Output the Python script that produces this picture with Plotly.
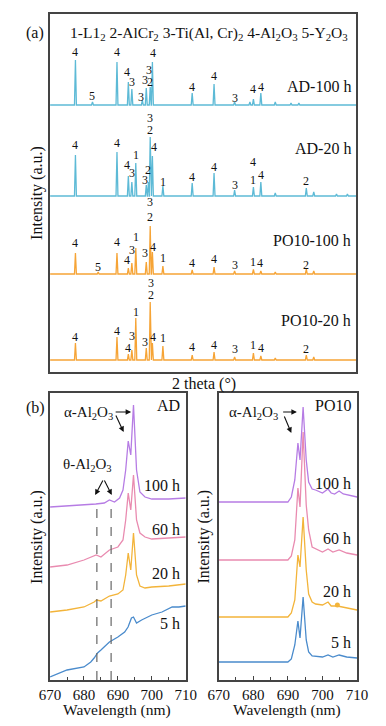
import plotly.graph_objects as go

# the page body adds an 8px margin, so the figure is drawn 8px smaller
OFF = 8
W, H = 386 - OFF, 726 - OFF
FONT = "Liberation Serif"


def xp(px):
    return (px - OFF) / W


def yp(py):
    return 1 - (py - OFF) / H


# ---------------- (a) XRD data ----------------
# peak positions (2theta, deg) and heights (a.u.) above each pattern's baseline
ad100_base = 267
ad100_pos = [25.8, 29.7, 35.3, 37.9, 38.7, 41.1, 42.0, 42.9, 43.4, 52.5, 57.5, 62.2, 65.7, 66.5, 68.2, 71.5, 75.1, 76.9]
ad100_h   = [45,   3,    43,   23,   16,   5,    17,   18,   43,   12,   21,   3,    3,    6,    12,   3,    2,    2]

ad20_base = 176
ad20_pos = [25.8, 35.3, 37.9, 38.7, 39.6, 42.0, 42.5, 42.9, 43.4, 45.8, 52.5, 57.5, 62.2, 66.5, 68.2, 71.5, 78.6, 80.3, 85.5, 88.0]
ad20_h   = [41,   44,   20,   14,   33,   11,   14,   59,   40,   10,   13,   23,   6,    9,    14,   3,    8,    4,    2,    2]

po100_base = 98
po100_pos = [25.8, 31.0, 35.3, 37.9, 38.7, 39.6, 42.0, 42.9, 43.4, 45.8, 52.5, 57.5, 62.2, 66.5, 68.2, 71.5, 78.6, 80.3]
po100_h   = [21,   2,    21,   6,    11,   26,   12,   48,   22,   8,    4,    7,    3,    4.5,  3,    2,    5,    3]

po20_base = 12
po20_pos = [25.8, 35.3, 37.9, 38.7, 39.6, 42.0, 42.9, 43.4, 45.8, 52.5, 57.5, 62.2, 66.5, 68.2, 71.5, 78.6, 80.3]
po20_h   = [17,   23,   6,    10,   42,   12,   58,   17,   14,   5,    8,    3,    7,    4,    2,    5,    3]

# phase labels: text, 2theta, intensity
ad100_lab_t = ["4", "5", "4", "4", "3", "3", "3", "3", "2", "4", "4", "4", "3", "4", "4"]
ad100_lab_x = [25.8, 29.7, 35.3, 37.7, 38.7, 40.9, 41.6, 42.6, 42.9, 43.5, 52.5, 57.5, 62.2, 66.3, 68.2]
ad100_lab_y = [320, 276, 320, 300, 290, 275, 292, 302, 290, 319, 285, 296, 274, 283, 285]

ad20_lab_t = ["4", "4", "4", "3", "1", "3", "2", "3", "2", "4", "1", "4", "4", "3", "4", "1", "4", "2"]
ad20_lab_x = [25.8, 35.3, 37.7, 38.7, 39.6, 41.8, 42.4, 42.8, 42.8, 43.7, 45.8, 52.5, 57.5, 62.2, 66.5, 66.5, 68.2, 78.6]
ad20_lab_y = [227, 229, 207, 199, 217, 192, 202, 254, 242, 225, 190, 195, 205, 187, 210, 192, 197, 191]

po100_lab_t = ["4", "5", "4", "4", "3", "1", "3", "3", "2", "4", "1", "4", "4", "3", "1", "4", "2"]
po100_lab_x = [25.8, 31.0, 35.3, 37.7, 38.7, 39.6, 41.8, 42.8, 42.8, 43.5, 45.8, 52.5, 57.5, 62.2, 66.4, 68.0, 78.6]
po100_lab_y = [129, 105, 130, 112, 122, 135, 119, 170, 155, 125, 114, 109, 113, 107, 110, 109, 107]

po20_lab_t = ["4", "4", "4", "3", "1", "3", "3", "2", "4", "1", "4", "4", "3", "1", "4", "2"]
po20_lab_x = [25.8, 35.3, 37.9, 38.7, 39.6, 41.8, 43.0, 43.0, 43.5, 45.8, 52.5, 57.5, 62.2, 66.5, 68.2, 78.6]
po20_lab_y = [35, 41, 24, 36, 60, 30, 89, 77, 35, 34, 25, 27, 23, 27, 24, 23]

sample_names = ["AD-100 h", "AD-20 h", "PO10-100 h", "PO10-20 h"]
sample_name_y = [285, 224, 132, 52]

# ---------------- (b) PL data ----------------
ad5_x = [670, 675, 680, 682, 683, 684, 685, 687.5, 690, 692, 693, 694, 694.6, 695.5, 697, 700, 703, 706, 708, 710]
ad5_y = [3, 10, 13, 18, 22, 27, 30, 38, 43, 48, 53, 62, 63, 57, 60, 65, 68, 73, 73, 74]
ad20_x = [670, 675, 680, 683, 683.7, 685, 687.5, 690, 691.5, 692.3, 693.05, 693.8, 694.6, 695.5, 696.5, 698, 700, 705, 710]
ad20_y = [68, 70, 73, 78, 80, 79, 84, 86, 90, 105, 127, 110, 147, 105, 94, 92, 93, 94, 96]
ad60_x = [670, 675, 680, 683.6, 685, 687.5, 690, 691.5, 692.3, 693.05, 693.8, 694.6, 695.5, 696.5, 698, 700, 705, 710]
ad60_y = [113, 115, 120, 125, 123, 130, 133, 140, 160, 187, 170, 205, 160, 147, 143, 141, 142, 143]
ad100_x = [670, 675, 680, 683.5, 686, 687.5, 689, 690.5, 691.5, 692.3, 693.05, 693.8, 694.6, 695.5, 696.5, 698, 700, 705, 710]
ad100_y = [173, 174, 175, 176, 177, 180, 178, 182, 190, 210, 239, 225, 275, 210, 188, 183, 181, 181, 182]

po5_x = [670, 680, 690, 691, 692, 692.9, 693.5, 694.4, 695.3, 696, 697, 700, 701.6, 703, 704.8, 707, 710]
po5_y = [18, 18, 18, 21, 35, 59, 42, 83, 40, 28, 24, 23, 25, 23, 25, 23, 22]
po20_x = [670, 680, 690, 691, 692, 692.9, 693.5, 694.4, 695.3, 696, 697, 698, 700, 701.6, 702.5, 704.3, 706, 710]
po20_y = [63, 63, 63, 67, 80, 125, 113, 163, 110, 86, 78, 76, 75, 78, 74, 74, 73, 70]
po60_x = [670, 680, 690, 691, 692, 692.9, 693.5, 694.4, 695.3, 696, 697, 700, 701.6, 703, 704.8, 707, 710]
po60_y = [120, 120, 120, 124, 140, 192, 173, 248, 175, 150, 133, 128, 131, 128, 130, 127, 125]
po100_x = [670, 680, 690, 691, 692, 692.9, 693.5, 694.4, 695.3, 696, 697, 698, 700, 701.6, 702.5, 703.5, 704.8, 706, 710]
po100_y = [178, 178, 178, 183, 200, 237, 220, 273, 220, 198, 191, 190, 187, 191, 187, 186, 189, 186, 183]

po20_dot_x = [704.3]
po20_dot_y = [75]

theta_lines = [683.8, 688.0]
time_labels = ["100 h", "60 h", "20 h", "5 h"]
ad_time_y = [195, 151, 107, 57]
po_time_y = [197, 142, 89, 38]

C_AD = "#5dbad6"
C_PO = "#f6a436"
C_100 = "#b67ce4"
C_60 = "#e98bb0"
C_20 = "#f3b43a"
C_5 = "#4a8bcc"
AX = "#444444"


def profile(base, pos, h, w=0.22):
    xs, ys = [20], [base]
    for c, hh in sorted(zip(pos, h)):
        xs += [c - w, c, c + w]
        ys += [base, base + hh, base]
    xs.append(90)
    ys.append(base)
    return xs, ys


fig = go.Figure()

for base, pos, h, col in [(ad100_base, ad100_pos, ad100_h, C_AD), (ad20_base, ad20_pos, ad20_h, C_AD),
                          (po100_base, po100_pos, po100_h, C_PO), (po20_base, po20_pos, po20_h, C_PO)]:
    xs, ys = profile(base, pos, h)
    fig.add_trace(go.Scatter(x=xs, y=ys, mode="lines", line=dict(color=col, width=1.3),
                             xaxis="x", yaxis="y", showlegend=False, hoverinfo="skip"))

for xs, ys, col in [(ad100_x, ad100_y, C_100), (ad60_x, ad60_y, C_60), (ad20_x, ad20_y, C_20), (ad5_x, ad5_y, C_5)]:
    fig.add_trace(go.Scatter(x=xs, y=ys, mode="lines", line=dict(color=col, width=1.3),
                             xaxis="x2", yaxis="y2", showlegend=False))
for xs, ys, col in [(po100_x, po100_y, C_100), (po60_x, po60_y, C_60), (po20_x, po20_y, C_20), (po5_x, po5_y, C_5)]:
    fig.add_trace(go.Scatter(x=xs, y=ys, mode="lines", line=dict(color=col, width=1.3),
                             xaxis="x3", yaxis="y3", showlegend=False))
fig.add_trace(go.Scatter(x=po20_dot_x, y=po20_dot_y, mode="markers", marker=dict(color=C_20, size=5),
                         xaxis="x3", yaxis="y3", showlegend=False))

# dashed theta-Al2O3 lines
for xv in theta_lines:
    fig.add_trace(go.Scatter(x=[xv, xv], y=[0, 178], mode="lines",
                             line=dict(color="#666666", width=1.2, dash="dash"),
                             xaxis="x2", yaxis="y2", showlegend=False))

ann = []


def txt(x, y, t, size=13, xref="x", yref="y", xanchor="center", yanchor="middle", angle=0):
    ann.append(dict(x=x, y=y, text=t, xref=xref, yref=yref, showarrow=False, xanchor=xanchor,
                    yanchor=yanchor, textangle=angle, font=dict(family=FONT, size=size, color="#111")))


for T, X, Y in [(ad100_lab_t, ad100_lab_x, ad100_lab_y), (ad20_lab_t, ad20_lab_x, ad20_lab_y),
                (po100_lab_t, po100_lab_x, po100_lab_y), (po20_lab_t, po20_lab_x, po20_lab_y)]:
    for t, x, y in zip(T, X, Y):
        txt(x, y, t, 12)

for name, y in zip(sample_names, sample_name_y):
    txt(89.2, y, name, 16, xanchor="right")

txt(xp(210), yp(33), "1-L1<sub>2</sub> 2-AlCr<sub>2</sub> 3-Ti(Al, Cr)<sub>2</sub> 4-Al<sub>2</sub>O<sub>3</sub> 5-Y<sub>2</sub>O<sub>3</sub>",
    15.5, xref="paper", yref="paper")
txt(xp(25), yp(33), "(a)", 16, xref="paper", yref="paper")
txt(xp(25), yp(408), "(b)", 16, xref="paper", yref="paper")
txt(xp(27), yp(193), "Intensity (a.u.)", 16, xref="paper", yref="paper", angle=-90)
txt(xp(27), yp(537), "Intensity (a.u.)", 16, xref="paper", yref="paper", angle=-90)
txt(xp(204), yp(537), "Intensity (a.u.)", 16, xref="paper", yref="paper", angle=-90)
txt(xp(204), yp(384), "2 theta (°)", 16, xref="paper", yref="paper")
txt(xp(112), yp(710), "Wavelength (nm)", 15.5, xref="paper", yref="paper")
txt(xp(293), yp(710), "Wavelength (nm)", 15.5, xref="paper", yref="paper")

txt(708.9, 275, "AD", 16, xref="x2", yref="y2", xanchor="right")
txt(708.9, 275, "PO10", 16, xref="x3", yref="y3", xanchor="right")
for t, y in zip(time_labels, ad_time_y):
    txt(708.9, y, t, 16, xref="x2", yref="y2", xanchor="right")
for t, y in zip(time_labels, po_time_y):
    txt(708.9, y, t, 16, xref="x3", yref="y3", xanchor="right")

txt(681.4, 267, "α-Al<sub>2</sub>O<sub>3</sub>", 15, xref="x2", yref="y2")
txt(680.1, 267, "α-Al<sub>2</sub>O<sub>3</sub>", 15, xref="x3", yref="y3")
txt(681.1, 215, "θ-Al<sub>2</sub>O<sub>3</sub>", 15, xref="x2", yref="y2")


def arrow(xr, yr, x0, y0, x1, y1):
    ann.append(dict(x=x1, y=y1, ax=x0, ay=y0, xref=xr, yref=yr, axref=xr, ayref=yr, text="",
                    showarrow=True, arrowhead=2, arrowsize=1, arrowwidth=1.1, arrowcolor="#111"))


arrow("x2", "y2", 688.9, 268, 693.9, 268)
arrow("x2", "y2", 689.2, 266, 691.7, 248)
arrow("x3", "y3", 688.2, 268, 692.6, 268)
arrow("x3", "y3", 688.8, 265, 691.0, 247)
arrow("x2", "y2", 685.8, 201, 683.3, 185)
arrow("x2", "y2", 685.8, 201, 688.2, 185)

axis_common = dict(showline=True, mirror=True, linecolor=AX, linewidth=1.5, showgrid=False, zeroline=False)
b_x = dict(range=[670, 710], dtick=10, tick0=670, ticks="inside", ticklen=4, tickcolor=AX,
           tickfont=dict(family=FONT, size=15, color="#111"),
           minor=dict(dtick=5, ticks="inside", ticklen=3, tickcolor=AX), **axis_common)
hidden_y = dict(showticklabels=False, ticks="", **axis_common)

fig.update_layout(
    width=W, height=H, autosize=False, margin=dict(l=0, r=0, t=0, b=0),
    paper_bgcolor="white", plot_bgcolor="white",
    font=dict(family=FONT, color="#111"),
    xaxis=dict(domain=[xp(41), xp(366)], range=[20, 90], showticklabels=False, ticks="", anchor="y", **axis_common),
    yaxis=dict(domain=[yp(372), yp(14)], range=[0, 358], anchor="x", **hidden_y),
    xaxis2=dict(domain=[xp(41), xp(185)], anchor="y2", **b_x),
    yaxis2=dict(domain=[yp(680), yp(393)], range=[0, 287], anchor="x2", **hidden_y),
    xaxis3=dict(domain=[xp(220), xp(367)], anchor="y3", **b_x),
    yaxis3=dict(domain=[yp(680), yp(393)], range=[0, 287], anchor="x3", **hidden_y),
    annotations=ann,
)

fig.write_html("out.html")
